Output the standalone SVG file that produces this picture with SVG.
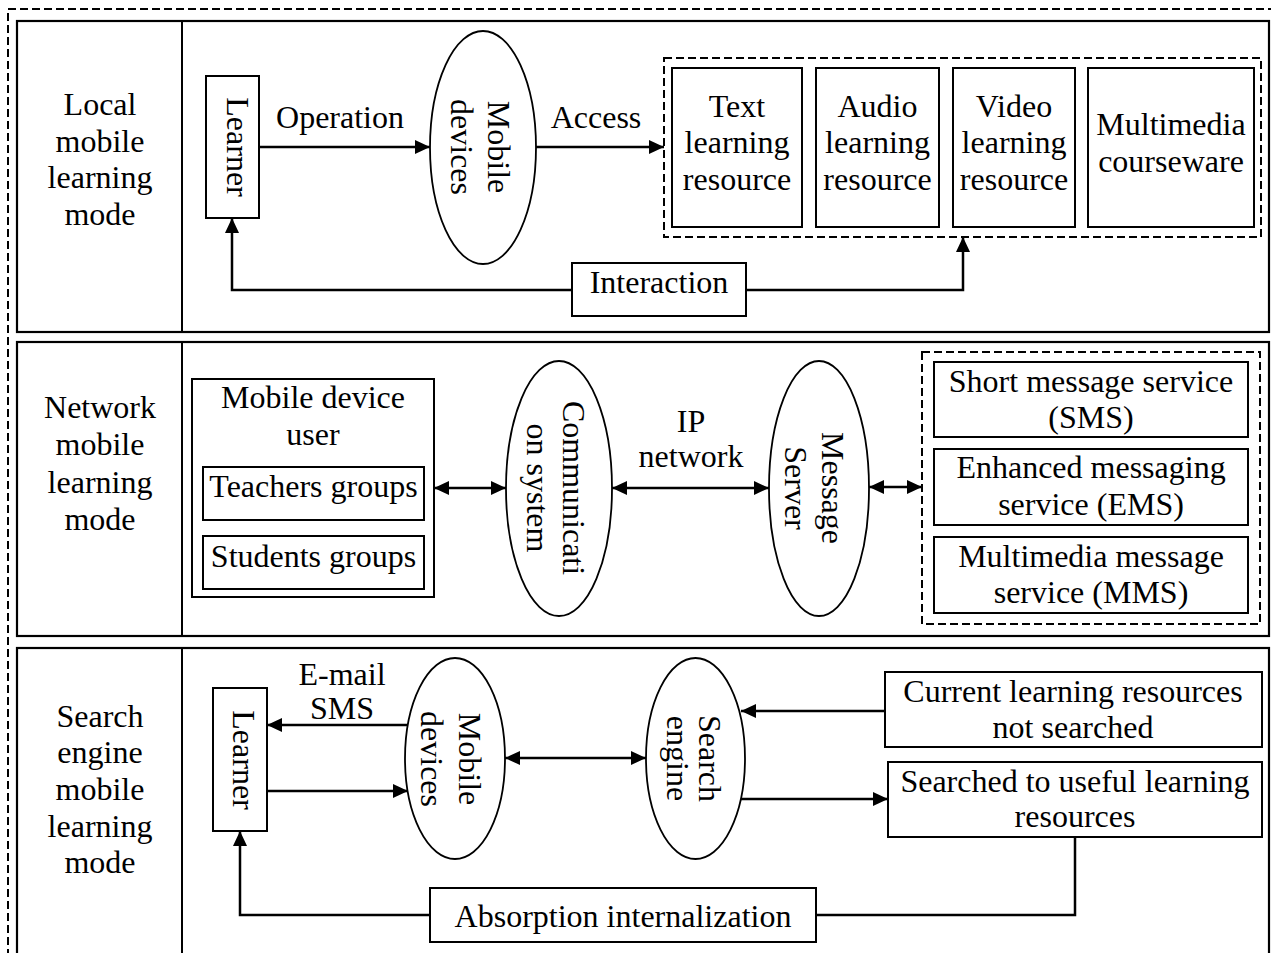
<svg xmlns="http://www.w3.org/2000/svg" width="1271" height="953" viewBox="0 0 1271 953">
<style>
text{font-family:"Liberation Serif","Times New Roman",serif;font-size:32px;fill:#000;text-anchor:middle}
.box{fill:#fff;stroke:#000;stroke-width:2}
.panel{fill:none;stroke:#000;stroke-width:2.2}
.dash{fill:none;stroke:#000;stroke-width:2;stroke-dasharray:8 4}
.ell{fill:#fff;stroke:#000;stroke-width:1.8}
.conn{fill:none;stroke:#000;stroke-width:2.5}
.arr{marker-end:url(#ah)}
.bi{marker-start:url(#ah);marker-end:url(#ah)}
</style>
<defs>
<marker id="ah" viewBox="0 0 15 14" refX="15" refY="7" markerWidth="15" markerHeight="14" orient="auto-start-reverse" markerUnits="userSpaceOnUse">
<path d="M0,0 L15,7 L0,14 z" fill="#000"/>
</marker>
</defs>
<rect width="1271" height="953" fill="#fff"/>
<rect class="dash" x="8" y="9" width="1280" height="970"/>

<g id="panel-local">
<rect class="panel" x="17" y="21" width="1252" height="311"/>
<line x1="182" y1="21" x2="182" y2="332" stroke="#000" stroke-width="2"/>
<text x="100"><tspan x="100" y="115">Local</tspan><tspan x="100" y="152">mobile</tspan><tspan x="100" y="188">learning</tspan><tspan x="100" y="225">mode</tspan></text>
</g>
<g id="panel-network">
<rect class="panel" x="17" y="342" width="1252" height="294"/>
<line x1="182" y1="342" x2="182" y2="636" stroke="#000" stroke-width="2"/>
<text x="100"><tspan x="100" y="418">Network</tspan><tspan x="100" y="455">mobile</tspan><tspan x="100" y="493">learning</tspan><tspan x="100" y="530">mode</tspan></text>
</g>
<g id="panel-search">
<rect class="panel" x="17" y="648" width="1252" height="330"/>
<line x1="182" y1="648" x2="182" y2="978" stroke="#000" stroke-width="2"/>
<text x="100"><tspan x="100" y="727">Search</tspan><tspan x="100" y="763">engine</tspan><tspan x="100" y="800">mobile</tspan><tspan x="100" y="837">learning</tspan><tspan x="100" y="873">mode</tspan></text>
</g>

<g id="connectors">
<line class="conn arr" x1="259" y1="147" x2="430" y2="147"/>
<line class="conn arr" x1="536" y1="147" x2="664" y2="147"/>
<path class="conn arr" d="M572,290 H232 V218"/>
<path class="conn arr" d="M746,290 H963 V237"/>
<line class="conn bi" x1="434" y1="488" x2="506" y2="488"/>
<line class="conn bi" x1="612" y1="488" x2="769" y2="488"/>
<line class="conn bi" x1="869" y1="487" x2="922" y2="487"/>
<line class="conn arr" x1="408" y1="725" x2="267" y2="725"/>
<line class="conn arr" x1="267" y1="791" x2="408" y2="791"/>
<line class="conn bi" x1="505" y1="758" x2="646" y2="758"/>
<line class="conn arr" x1="885" y1="711" x2="741" y2="711"/>
<line class="conn arr" x1="740" y1="799" x2="888" y2="799"/>
<path class="conn" d="M1075,837 V915 H816"/>
<path class="conn arr" d="M430,915 H240 V831"/>
<text x="340" y="128">Operation</text>
<text x="596" y="128">Access</text>
<text x="691" y="432">IP</text>
<text x="691" y="467">network</text>
<text x="342" y="685">E-mail</text>
<text x="342" y="719">SMS</text>
</g>

<g id="learner1">
<rect class="box" x="206" y="76" width="53" height="142"/>
<text transform="translate(227,147) rotate(90)" x="0" y="0">Learner</text>
</g>
<g id="mobile1">
<ellipse class="ell" cx="483" cy="147.5" rx="53" ry="116.5"/>
<text transform="translate(488,147) rotate(90)"><tspan x="0" y="0">Mobile</tspan><tspan x="0" y="37">devices</tspan></text>
</g>
<g id="resources1">
<rect class="dash" x="664" y="58" width="597" height="179"/>
</g>
<g id="text-res">
<rect class="box" x="672" y="68" width="130" height="159"/>
<text><tspan x="737" y="117">Text</tspan><tspan x="737" y="153">learning</tspan><tspan x="737" y="190">resource</tspan></text>
</g>
<g id="audio-res">
<rect class="box" x="816" y="68" width="123" height="159"/>
<text><tspan x="877.5" y="117">Audio</tspan><tspan x="877.5" y="153">learning</tspan><tspan x="877.5" y="190">resource</tspan></text>
</g>
<g id="video-res">
<rect class="box" x="953" y="68" width="122" height="159"/>
<text><tspan x="1014" y="117">Video</tspan><tspan x="1014" y="153">learning</tspan><tspan x="1014" y="190">resource</tspan></text>
</g>
<g id="multimedia-res">
<rect class="box" x="1088" y="68" width="166" height="159"/>
<text><tspan x="1171" y="135">Multimedia</tspan><tspan x="1171" y="172">courseware</tspan></text>
</g>
<g id="interaction">
<rect class="box" x="572" y="263" width="174" height="53"/>
<text x="659" y="293">Interaction</text>
</g>

<g id="mobile-user">
<rect class="box" x="192" y="379" width="242" height="218"/>
<text><tspan x="313" y="408">Mobile device</tspan><tspan x="313" y="445">user</tspan></text>
</g>
<g id="teachers">
<rect class="box" x="203" y="467" width="221" height="53"/>
<text x="313.5" y="497">Teachers groups</text>
</g>
<g id="students">
<rect class="box" x="203" y="536" width="221" height="53"/>
<text x="313.5" y="567">Students groups</text>
</g>
<g id="comm">
<ellipse class="ell" cx="559" cy="488.5" rx="53" ry="127.5"/>
<text transform="translate(563,488) rotate(90)"><tspan x="0" y="0">Communicati</tspan><tspan x="0" y="36">on system</tspan></text>
</g>
<g id="msgserver">
<ellipse class="ell" cx="819" cy="488.5" rx="50" ry="127.5"/>
<text transform="translate(822,488) rotate(90)"><tspan x="0" y="0">Message</tspan><tspan x="0" y="37">Server</tspan></text>
</g>
<g id="services">
<rect class="dash" x="922" y="352" width="338" height="272"/>
</g>
<g id="sms">
<rect class="box" x="934" y="362" width="314" height="75"/>
<text><tspan x="1091" y="392">Short message service</tspan><tspan x="1091" y="428">(SMS)</tspan></text>
</g>
<g id="ems">
<rect class="box" x="934" y="449" width="314" height="76"/>
<text><tspan x="1091" y="478">Enhanced messaging</tspan><tspan x="1091" y="515">service (EMS)</tspan></text>
</g>
<g id="mms">
<rect class="box" x="934" y="537" width="314" height="76"/>
<text><tspan x="1091" y="567">Multimedia message</tspan><tspan x="1091" y="603">service (MMS)</tspan></text>
</g>

<g id="learner3">
<rect class="box" x="213" y="688" width="54" height="143"/>
<text transform="translate(233,760) rotate(90)" x="0" y="0">Learner</text>
</g>
<g id="mobile3">
<ellipse class="ell" cx="455" cy="758.5" rx="50" ry="100.5"/>
<text transform="translate(459,759) rotate(90)"><tspan x="0" y="0">Mobile</tspan><tspan x="0" y="38">devices</tspan></text>
</g>
<g id="search-engine">
<ellipse class="ell" cx="695.5" cy="758.5" rx="49.5" ry="100.5"/>
<text transform="translate(699,758.5) rotate(90)"><tspan x="0" y="0">Search</tspan><tspan x="0" y="32">engine</tspan></text>
</g>
<g id="not-searched">
<rect class="box" x="885" y="672" width="377" height="75"/>
<text><tspan x="1073" y="702">Current learning resources</tspan><tspan x="1073" y="738">not searched</tspan></text>
</g>
<g id="searched">
<rect class="box" x="888" y="762" width="374" height="75"/>
<text><tspan x="1075" y="792">Searched to useful learning</tspan><tspan x="1075" y="827">resources</tspan></text>
</g>
<g id="absorption">
<rect class="box" x="430" y="888" width="386" height="54"/>
<text x="623" y="927">Absorption internalization</text>
</g>
</svg>
